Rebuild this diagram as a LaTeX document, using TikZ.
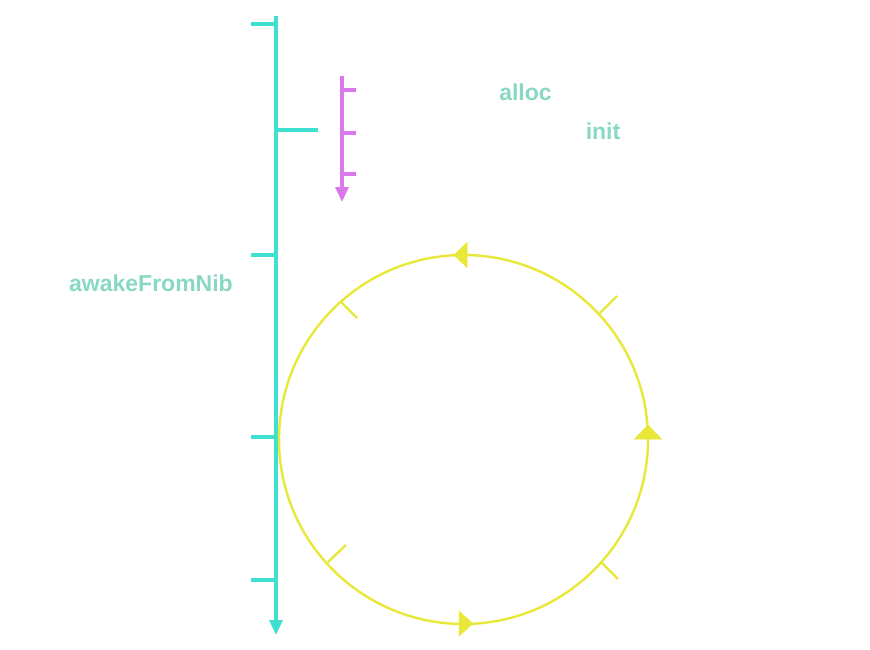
\documentclass[tikz,border=0pt]{standalone}
\usepackage{fontspec}
\setmainfont{Liberation Sans}
\usetikzlibrary{arrows.meta}
\definecolor{cyanl}{HTML}{40E0D0}
\definecolor{magl}{HTML}{DD77EE}
\definecolor{yell}{HTML}{E8E83A}
\definecolor{mint}{HTML}{88D8C4}
\tikzset{
  cyanline/.style={draw=cyanl, line width=3.4pt},
  magline/.style={draw=magl, line width=3.2pt},
  yelline/.style={draw=yell, line width=2.4pt},
  yhead/.style={fill=yell, draw=yell, line width=0.5pt, line join=miter},
  lbl/.style={text=mint, font=\fontsize{23}{26}\selectfont\bfseries, inner sep=0pt},
}
\begin{document}
\begin{tikzpicture}[x=1pt,y=-1pt]
\useasboundingbox (0,0) rectangle (870,650);
% cyan timeline
\coordinate (ctop) at (276,16);
\coordinate (cbot) at (276,635);
\draw[cyanline, -{Triangle[length=15pt,width=13pt]}] (ctop) -- (cbot);
\foreach \y in {24,255,437,580} {
  \coordinate (cl\y) at (251,\y);
  \coordinate (cr\y) at (276,\y);
  \draw[cyanline] (cl\y) -- (cr\y);
}
\coordinate (rt1) at (276,130);
\coordinate (rt2) at (318,130);
\draw[cyanline] (rt1) -- (rt2);
% magenta timeline
\coordinate (mtop) at (342,76);
\coordinate (mbot) at (342,202);
\draw[magline, -{Triangle[length=15pt,width=13pt]}] (mtop) -- (mbot);
\foreach \y in {90,133,174} {
  \coordinate (ml\y) at (342,\y);
  \coordinate (mr\y) at (356,\y);
  \draw[magline] (ml\y) -- (mr\y);
}
% yellow circle
\coordinate (cc) at (463.5,439.5);
\draw[yelline] (cc) circle[radius=184.5];
% ticks
\coordinate (t1a) at (600,313); \coordinate (t1b) at (617,296);
\coordinate (t2a) at (602,563); \coordinate (t2b) at (618,579);
\coordinate (t3a) at (341,302); \coordinate (t3b) at (357,318);
\coordinate (t4a) at (328,562); \coordinate (t4b) at (346,545);
\draw[yelline] (t1a) -- (t1b);
\draw[yelline] (t2a) -- (t2b);
\draw[yelline] (t3a) -- (t3b);
\draw[yelline] (t4a) -- (t4b);
% arrowheads on circle
\coordinate (h1t) at (454,255); \coordinate (h1u) at (467,242.5); \coordinate (h1v) at (467,267.5);
\coordinate (h2t) at (648,425); \coordinate (h2u) at (634.5,439); \coordinate (h2v) at (661.5,439);
\coordinate (h3t) at (473,623.7); \coordinate (h3u) at (459,611); \coordinate (h3v) at (459,636);
\filldraw[yhead] (h1t) -- (h1u) -- (h1v) -- cycle;
\filldraw[yhead] (h2t) -- (h2u) -- (h2v) -- cycle;
\filldraw[yhead] (h3t) -- (h3u) -- (h3v) -- cycle;
% labels
\node[lbl] (alloc) at (525.5,92) {alloc};
\node[lbl] (init) at (603,131) {init};
\node[lbl] (awake) at (151,283) {awakeFromNib};
\end{tikzpicture}
\end{document}
